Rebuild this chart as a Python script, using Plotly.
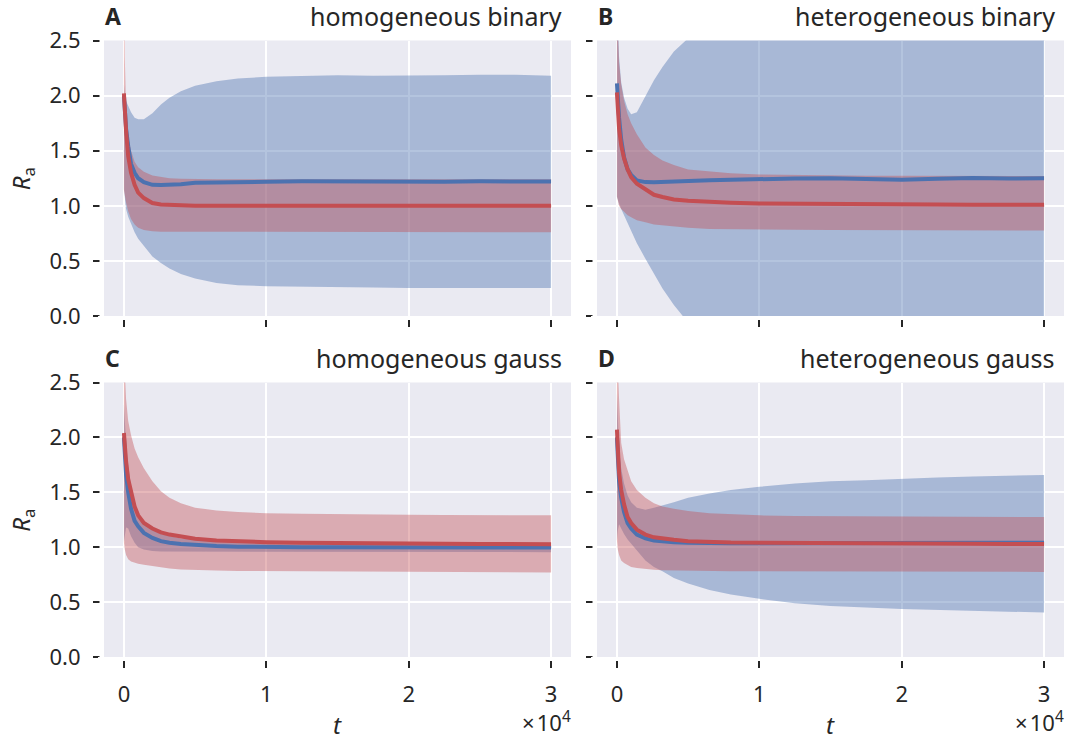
import plotly.graph_objects as go

# ---------------- data ----------------
t = [0, 60, 150, 300, 500, 750, 1000, 1400, 2000, 2600, 3200, 4000, 5000,
     6500, 8000, 10000, 12500, 15000, 17500, 20000, 22500, 25000, 27500, 30000]

panel_letters = ["A", "B", "C", "D"]
panel_titles = ["homogeneous binary", "heterogeneous binary",
                "homogeneous gauss", "heterogeneous gauss"]

x_tick_vals = [0, 10000, 20000, 30000]
x_tick_text = ["0", "1", "2", "3"]
y_tick_vals = [0.0, 0.5, 1.0, 1.5, 2.0, 2.5]
y_tick_text = ["0.0", "0.5", "1.0", "1.5", "2.0", "2.5"]

# Panel A: homogeneous binary
A_blue_mean = [2.00, 1.85, 1.70, 1.54, 1.38, 1.30, 1.25, 1.215, 1.19, 1.188, 1.19, 1.196, 1.21,
               1.215, 1.22, 1.218, 1.222, 1.220, 1.218, 1.221, 1.219, 1.222, 1.221, 1.220]
A_blue_hi = [2.10, 2.00, 1.95, 1.90, 1.85, 1.80, 1.785, 1.785, 1.84, 1.92, 1.98, 2.04, 2.09,
             2.13, 2.155, 2.17, 2.18, 2.185, 2.18, 2.18, 2.185, 2.19, 2.19, 2.18]
A_blue_lo = [1.15, 1.05, 0.97, 0.90, 0.83, 0.76, 0.70, 0.63, 0.54, 0.48, 0.43, 0.38, 0.34,
             0.30, 0.28, 0.27, 0.265, 0.26, 0.258, 0.255, 0.255, 0.252, 0.253, 0.255]
A_red_mean = [2.02, 1.85, 1.68, 1.45, 1.30, 1.19, 1.12, 1.07, 1.025, 1.012, 1.007, 1.003, 1.001,
              1.0, 1.0, 1.0, 1.0, 1.0, 1.0, 1.0, 1.0, 1.0, 1.0, 1.0]
A_red_hi = [3.20, 2.35, 1.90, 1.63, 1.50, 1.40, 1.35, 1.31, 1.275, 1.26, 1.25, 1.245, 1.242,
            1.24, 1.24, 1.24, 1.24, 1.24, 1.24, 1.24, 1.24, 1.24, 1.24, 1.24]
A_red_lo = [1.14, 1.08, 1.03, 0.95, 0.88, 0.83, 0.80, 0.78, 0.77, 0.765, 0.763, 0.762, 0.762,
            0.761, 0.761, 0.76, 0.76, 0.76, 0.76, 0.76, 0.76, 0.76, 0.76, 0.76]

# Panel B: heterogeneous binary
B_blue_mean = [2.11, 1.95, 1.80, 1.60, 1.44, 1.33, 1.28, 1.23, 1.215, 1.213, 1.217, 1.222, 1.228,
               1.232, 1.236, 1.245, 1.248, 1.250, 1.240, 1.237, 1.245, 1.252, 1.248, 1.250]
B_blue_hi = [3.00, 2.60, 2.35, 2.12, 1.98, 1.88, 1.83, 1.85, 2.00, 2.14, 2.26, 2.40, 2.52,
             2.75, 2.95, 3.20, 3.40, 3.55, 3.65, 3.72, 3.78, 3.82, 3.86, 3.90]
B_blue_lo = [1.08, 1.06, 1.02, 0.97, 0.91, 0.84, 0.77, 0.66, 0.52, 0.38, 0.25, 0.10, -0.06,
             -0.30, -0.50, -0.70, -0.85, -0.95, -1.02, -1.08, -1.12, -1.15, -1.18, -1.20]
B_red_mean = [2.03, 1.85, 1.70, 1.55, 1.43, 1.33, 1.26, 1.20, 1.15, 1.10, 1.08, 1.058, 1.045,
              1.034, 1.028, 1.022, 1.018, 1.015, 1.013, 1.012, 1.011, 1.010, 1.010, 1.010]
B_red_hi = [3.30, 2.60, 2.30, 2.10, 1.95, 1.83, 1.75, 1.65, 1.53, 1.46, 1.41, 1.37, 1.33,
            1.31, 1.295, 1.285, 1.28, 1.275, 1.273, 1.272, 1.271, 1.270, 1.270, 1.270]
B_red_lo = [1.085, 1.04, 1.00, 0.97, 0.945, 0.915, 0.895, 0.87, 0.85, 0.83, 0.82, 0.81, 0.80,
            0.79, 0.787, 0.785, 0.782, 0.780, 0.778, 0.777, 0.776, 0.776, 0.775, 0.775]

# Panel C: homogeneous gauss
C_blue_mean = [2.00, 1.82, 1.66, 1.50, 1.35, 1.24, 1.19, 1.13, 1.085, 1.055, 1.04, 1.03, 1.02,
               1.01, 1.005, 1.0, 0.999, 0.999, 0.998, 0.998, 0.998, 0.998, 0.998, 0.998]
C_blue_hi = [2.30, 2.15, 1.95, 1.75, 1.55, 1.40, 1.30, 1.22, 1.16, 1.12, 1.10, 1.08, 1.07,
             1.06, 1.055, 1.05, 1.045, 1.043, 1.042, 1.041, 1.04, 1.04, 1.04, 1.04]
C_blue_lo = [1.05, 1.12, 1.18, 1.17, 1.10, 1.04, 1.00, 0.98, 0.965, 0.96, 0.958, 0.957, 0.956,
             0.955, 0.955, 0.955, 0.955, 0.955, 0.955, 0.955, 0.955, 0.955, 0.955, 0.955]
C_red_mean = [2.04, 1.90, 1.78, 1.62, 1.50, 1.37, 1.29, 1.22, 1.17, 1.135, 1.115, 1.095, 1.078,
              1.062, 1.053, 1.045, 1.04, 1.036, 1.034, 1.032, 1.031, 1.030, 1.030, 1.028]
C_red_hi = [3.20, 2.60, 2.35, 2.15, 2.02, 1.90, 1.82, 1.72, 1.60, 1.51, 1.45, 1.40, 1.36,
            1.335, 1.32, 1.31, 1.305, 1.30, 1.298, 1.295, 1.293, 1.292, 1.29, 1.29]
C_red_lo = [1.04, 0.98, 0.93, 0.89, 0.87, 0.86, 0.85, 0.84, 0.825, 0.815, 0.805, 0.798, 0.792,
            0.787, 0.783, 0.78, 0.778, 0.776, 0.775, 0.774, 0.773, 0.772, 0.771, 0.770]

# Panel D: heterogeneous gauss
D_blue_mean = [2.00, 1.78, 1.60, 1.45, 1.32, 1.22, 1.17, 1.115, 1.08, 1.06, 1.05, 1.045, 1.04,
               1.036, 1.035, 1.036, 1.038, 1.039, 1.040, 1.040, 1.041, 1.040, 1.041, 1.040]
D_blue_hi = [2.40, 2.10, 1.90, 1.72, 1.58, 1.47, 1.41, 1.36, 1.34, 1.36, 1.38, 1.41, 1.45,
             1.49, 1.52, 1.55, 1.58, 1.60, 1.61, 1.625, 1.635, 1.645, 1.652, 1.657]
D_blue_lo = [1.06, 1.15, 1.21, 1.17, 1.12, 1.07, 1.03, 0.97, 0.88, 0.82, 0.78, 0.72, 0.67,
             0.61, 0.57, 0.53, 0.49, 0.465, 0.45, 0.437, 0.428, 0.42, 0.412, 0.405]
D_red_mean = [2.07, 1.85, 1.68, 1.52, 1.39, 1.275, 1.22, 1.16, 1.115, 1.09, 1.078, 1.067, 1.054,
              1.046, 1.042, 1.04, 1.037, 1.035, 1.034, 1.033, 1.032, 1.031, 1.030, 1.030]
D_red_hi = [3.30, 2.65, 2.35, 1.95, 1.80, 1.70, 1.60, 1.52, 1.45, 1.40, 1.37, 1.35, 1.33,
            1.31, 1.30, 1.29, 1.285, 1.283, 1.28, 1.28, 1.278, 1.277, 1.276, 1.275]
D_red_lo = [1.06, 0.98, 0.93, 0.88, 0.855, 0.835, 0.82, 0.81, 0.80, 0.795, 0.79, 0.787, 0.785,
            0.783, 0.782, 0.78, 0.779, 0.778, 0.777, 0.777, 0.776, 0.776, 0.775, 0.775]

panels = [
    (A_blue_mean, A_blue_lo, A_blue_hi, A_red_mean, A_red_lo, A_red_hi),
    (B_blue_mean, B_blue_lo, B_blue_hi, B_red_mean, B_red_lo, B_red_hi),
    (C_blue_mean, C_blue_lo, C_blue_hi, C_red_mean, C_red_lo, C_red_hi),
    (D_blue_mean, D_blue_lo, D_blue_hi, D_red_mean, D_red_lo, D_red_hi),
]

# ---------------- styling / layout ----------------
W, H = 1068, 740
COLS = [(104, 571), (597, 1064)]
ROWS = [(40.5, 316), (382.5, 657)]
BG = "#EAEAF2"
TXT = "#262626"
BLUE = "#4C72B0"
RED = "#C44E52"
BLUE_FILL = "rgba(76,114,176,0.42)"
RED_FILL = "rgba(196,78,82,0.40)"
FONT = "Noto Sans"
TICK_FS = 22
TITLE_FS = 25

fig = go.Figure()
layout = dict(width=W, height=H, autosize=False,
              margin=dict(l=0, r=0, t=0, b=0, pad=0, autoexpand=False),
              paper_bgcolor="white", plot_bgcolor=BG, showlegend=False,
              font=dict(family=FONT, size=TICK_FS, color=TXT))
annotations = []
shapes = []

for i, (bm, blo, bhi, rm, rlo, rhi) in enumerate(panels):
    r, c = divmod(i, 2)
    n = i + 1
    xa = "x" if n == 1 else f"x{n}"
    ya = "y" if n == 1 else f"y{n}"
    x0p, x1p = COLS[c]
    y0p, y1p = ROWS[r]
    layout["xaxis" if n == 1 else f"xaxis{n}"] = dict(
        domain=[x0p / W, x1p / W], anchor=ya, range=[-1400, 31400], automargin=False,
        tickvals=x_tick_vals, ticktext=x_tick_text, showticklabels=(r == 1),
        ticks="outside", ticklen=10, tickwidth=1.5, tickcolor=TXT,
        showgrid=True, gridcolor="white", gridwidth=2, zeroline=False, showline=False,
        ticklabelstandoff=8, tickfont=dict(size=TICK_FS, color=TXT, family=FONT))
    layout["yaxis" if n == 1 else f"yaxis{n}"] = dict(
        domain=[1 - y1p / H, 1 - y0p / H], anchor=xa, range=[0, 2.5], automargin=False,
        tickvals=y_tick_vals, ticktext=y_tick_text, showticklabels=(c == 0),
        ticks="outside", ticklen=10, tickwidth=1.5, tickcolor=TXT,
        showgrid=True, gridcolor="white", gridwidth=2, zeroline=False, showline=False,
        ticklabelstandoff=8, tickfont=dict(size=TICK_FS, color=TXT, family=FONT))

    # bands
    fig.add_trace(go.Scatter(x=t + t[::-1], y=bhi + blo[::-1], fill="toself",
                             fillcolor=BLUE_FILL, line=dict(width=0), mode="lines",
                             hoverinfo="skip", xaxis=xa, yaxis=ya))
    fig.add_trace(go.Scatter(x=t + t[::-1], y=rhi + rlo[::-1], fill="toself",
                             fillcolor=RED_FILL, line=dict(width=0), mode="lines",
                             hoverinfo="skip", xaxis=xa, yaxis=ya))
    # mean lines
    fig.add_trace(go.Scatter(x=t, y=bm, mode="lines", line=dict(color=BLUE, width=4),
                             xaxis=xa, yaxis=ya))
    fig.add_trace(go.Scatter(x=t, y=rm, mode="lines", line=dict(color=RED, width=4),
                             xaxis=xa, yaxis=ya))

    # white strips to detach the tick marks from the plot area
    shapes.append(dict(type="rect", xref="paper", yref="paper", layer="above",
                       x0=(x0p - 4.5) / W, x1=x0p / W, y0=1 - (y1p + 6) / H, y1=1 - (y0p - 6) / H,
                       fillcolor="white", line=dict(width=0)))
    shapes.append(dict(type="rect", xref="paper", yref="paper", layer="above",
                       x0=(x0p - 6) / W, x1=(x1p + 6) / W, y0=1 - (y1p + 4) / H, y1=1 - y1p / H,
                       fillcolor="white", line=dict(width=0)))

    # panel letter and title
    annotations.append(dict(text=f"<b>{panel_letters[i]}</b>", xref="paper", yref="paper",
                            x=(x0p - 1) / W, y=1 - (y0p - 24.5) / H, xanchor="left", yanchor="middle",
                            showarrow=False, font=dict(size=TITLE_FS - 2, color=TXT, family=FONT)))
    annotations.append(dict(text=panel_titles[i], xref="paper", yref="paper",
                            x=(x1p - 7) / W, y=1 - (y0p - 24.5) / H, xanchor="right", yanchor="middle",
                            showarrow=False, font=dict(size=TITLE_FS, color=TXT, family=FONT)))
    if c == 0:
        annotations.append(dict(text="<i>R</i><sub>a</sub>", xref="paper", yref="paper",
                                x=22 / W, y=1 - (y0p + y1p) / 2 / H, xanchor="center", yanchor="middle",
                                textangle=-90, showarrow=False,
                                font=dict(size=24, color=TXT, family=FONT)))
    if r == 1:
        annotations.append(dict(text="<i>t</i>", xref="paper", yref="paper", borderpad=0,
                                x=(x0p + x1p) / 2 / W, y=1 - 724 / H, xanchor="center", yanchor="middle",
                                showarrow=False, font=dict(size=24, color=TXT, family=FONT)))
        annotations.append(dict(text="×\u200a10<sup>4</sup>", xref="paper", yref="paper", borderpad=0,
                                x=(x1p + 1) / W, y=1 - 721 / H, xanchor="right", yanchor="middle",
                                showarrow=False, font=dict(size=22, color=TXT, family=FONT)))

layout["annotations"] = annotations
layout["shapes"] = shapes
fig.update_layout(**layout)
fig.write_html("out.html")
